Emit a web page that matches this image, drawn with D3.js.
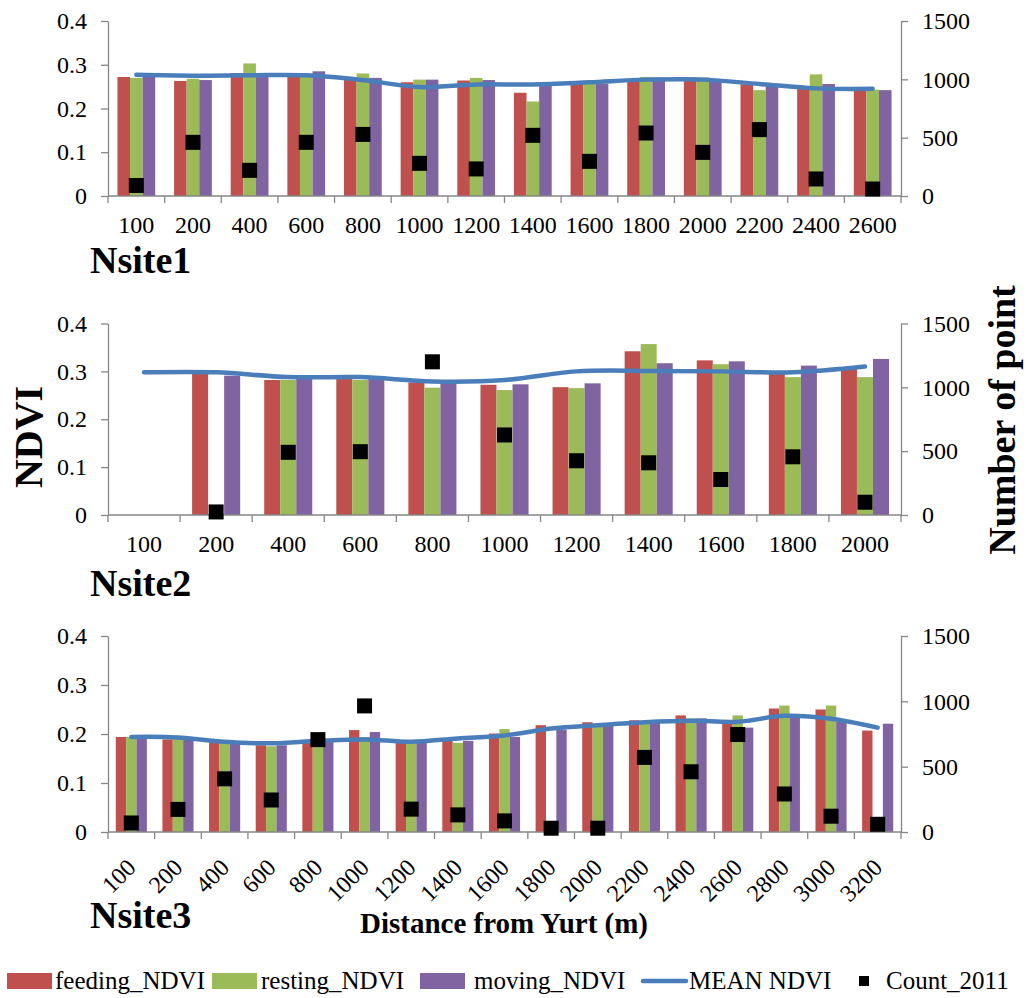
<!DOCTYPE html>
<html>
<head>
<meta charset="utf-8">
<script src="https://cdn.jsdelivr.net/npm/d3@7"></script>
<style>
  html, body { margin: 0; padding: 0; background: #fff; }
  svg text { font-family: "Liberation Serif", "Times New Roman", serif; }
</style>
</head>
<body>
<svg id="chart" width="1031" height="998" font-family="Liberation Serif"></svg>
<script>
// ---- Nsite1 ----
const cats1 = [100, 200, 400, 600, 800, 1000, 1200, 1400, 1600, 1800, 2000, 2200, 2400, 2600];
const feeding1 = [0.272, 0.263, 0.281, 0.277, 0.266, 0.260, 0.264, 0.236, 0.258, 0.266, 0.271, 0.255, 0.245, 0.243];
const resting1 = [0.270, 0.268, 0.303, 0.277, 0.280, 0.266, 0.270, 0.216, 0.258, 0.272, 0.271, 0.242, 0.278, 0.243];
const moving1  = [0.276, 0.265, 0.276, 0.285, 0.270, 0.266, 0.265, 0.255, 0.257, 0.271, 0.262, 0.251, 0.256, 0.242];
const mean1    = [0.277, 0.275, 0.276, 0.276, 0.265, 0.249, 0.255, 0.255, 0.260, 0.266, 0.266, 0.256, 0.246, 0.245];
const count1   = [90, 460, 220, 460, 528, 280, 232, 520, 297, 540, 374, 569, 146, 60];

// ---- Nsite2 ----
const cats2 = [100, 200, 400, 600, 800, 1000, 1200, 1400, 1600, 1800, 2000];
const feeding2 = [null, 0.296, 0.282, 0.284, 0.277, 0.272, 0.267, 0.342, 0.323, 0.297, 0.307];
const resting2 = [null, null, 0.282, 0.282, 0.266, 0.261, 0.265, 0.357, 0.315, 0.288, 0.288];
const moving2  = [null, 0.291, 0.285, 0.284, 0.277, 0.273, 0.275, 0.317, 0.321, 0.312, 0.326];
const mean2    = [0.298, 0.298, 0.288, 0.288, 0.279, 0.282, 0.300, 0.301, 0.300, 0.298, 0.310];
const count2   = [null, 24, 491, 496, 1200, 627, 425, 409, 278, 456, 100];

// ---- Nsite3 ----
const cats3 = [100, 200, 400, 600, 800, 1000, 1200, 1400, 1600, 1800, 2000, 2200, 2400, 2600, 2800, 3000, 3200];
const feeding3 = [0.194, 0.189, 0.184, 0.177, 0.184, 0.208, 0.184, 0.188, 0.201, 0.218, 0.224, 0.228, 0.238, 0.223, 0.252, 0.250, 0.207];
const resting3 = [0.194, 0.190, 0.182, 0.175, 0.184, 0.194, 0.183, 0.182, 0.210, null, 0.222, 0.227, 0.232, 0.238, 0.258, 0.258, null];
const moving3  = [0.192, 0.190, 0.182, 0.177, 0.184, 0.204, 0.184, 0.186, 0.194, 0.209, 0.218, 0.226, 0.232, 0.213, 0.240, 0.225, 0.221];
const mean3    = [0.194, 0.193, 0.184, 0.181, 0.186, 0.189, 0.184, 0.191, 0.197, 0.211, 0.218, 0.224, 0.227, 0.225, 0.237, 0.231, 0.213];
const count3   = [69, 173, 407, 245, 707, 965, 175, 131, 85, 29, 29, 571, 461, 746, 291, 121, 59];

// Axis ticks
const ndviTicks = [0, 0.1, 0.2, 0.3, 0.4];
const countTicks = [0, 500, 1000, 1500];

// Series names and colours
const barSeries = ["feeding_NDVI", "resting_NDVI", "moving_NDVI"];
const barColors = ["#C0504D", "#9BBB59", "#8064A2"];
const lineName = "MEAN NDVI";
const lineColor = "#4A7EBB";
const markerName = "Count_2011";

const FONT = "Liberation Serif";
const svg = d3.select("#chart");
const axisColor = "#868686";
const L = 108, R = 901;

const panels = [
  { name: "Nsite1", cats: cats1, bars: [feeding1, resting1, moving1], mean: mean1, count: count1,
    top: 21, bottom: 196, rotate: false, nameY: 273 },
  { name: "Nsite2", cats: cats2, bars: [feeding2, resting2, moving2], mean: mean2, count: count2,
    top: 323.5, bottom: 515, rotate: false, nameY: 596 },
  { name: "Nsite3", cats: cats3, bars: [feeding3, resting3, moving3], mean: mean3, count: count3,
    top: 636, bottom: 832, rotate: true, nameY: 928 }
];

function styleAxis(g) {
  g.attr("font-family", FONT);
  g.selectAll("path, line").attr("stroke", axisColor).attr("stroke-width", 1.3);
  g.selectAll("text").attr("font-size", 24).attr("fill", "#000").attr("font-family", FONT);
}

panels.forEach(p => {
  const x0 = d3.scaleBand().domain(p.cats).range([L, R]);
  const bw = x0.bandwidth();
  const x1 = d3.scaleBand().domain(barSeries).range([bw / 6, bw * 5 / 6]);
  const y = d3.scaleLinear().domain([0, 0.4]).range([p.bottom, p.top]);
  const y2 = d3.scaleLinear().domain([0, 1500]).range([p.bottom, p.top]);
  const cx = c => x0(c) + bw / 2;

  const g = svg.append("g");

  // grouped bars
  barSeries.forEach((s, si) => {
    const vals = p.bars[si];
    g.append("g").selectAll("rect")
      .data(p.cats.map((c, i) => ({ c, v: vals[i] })).filter(d => d.v != null))
      .join("rect")
      .attr("x", d => x0(d.c) + x1(s))
      .attr("width", x1.bandwidth())
      .attr("y", d => y(d.v))
      .attr("height", d => y(0) - y(d.v))
      .attr("fill", barColors[si]);
  });

  // left axis (NDVI)
  g.append("g").attr("transform", `translate(${L},0)`)
    .call(d3.axisLeft(y).tickValues(ndviTicks).tickSize(7).tickSizeOuter(0).tickPadding(14)
      .tickFormat(d => d === 0 ? "0" : d3.format(".1f")(d)))
    .call(styleAxis);

  // right axis (number of points)
  g.append("g").attr("transform", `translate(${R},0)`)
    .call(d3.axisRight(y2).tickValues(countTicks).tickSize(7).tickSizeOuter(0).tickPadding(14)
      .tickFormat(d3.format("d")))
    .call(styleAxis);

  // category axis: baseline with boundary ticks
  const xa = g.append("g").attr("transform", `translate(0,${p.bottom})`).attr("font-family", FONT);
  xa.append("line").attr("x1", L).attr("x2", R).attr("y1", 0).attr("y2", 0)
    .attr("stroke", axisColor).attr("stroke-width", 1.3);
  xa.selectAll("line.b").data(p.cats.map(c => x0(c)).concat([R]))
    .join("line").attr("class", "b")
    .attr("x1", d => d).attr("x2", d => d).attr("y1", 0).attr("y2", 7)
    .attr("stroke", axisColor).attr("stroke-width", 1.3);

  if (!p.rotate) {
    xa.selectAll("text").data(p.cats).join("text")
      .attr("x", d => cx(d)).attr("y", 37)
      .attr("text-anchor", "middle").attr("font-size", 24).attr("font-family", FONT).text(d => d);
  } else {
    xa.selectAll("text").data(p.cats).join("text")
      .attr("transform", d => `translate(${cx(d) + 6},${37}) rotate(-45)`)
      .attr("text-anchor", "end").attr("font-size", 24).attr("font-family", FONT).text(d => d);
  }

  // mean NDVI line (smoothed)
  const line = d3.line()
    .defined(d => d != null)
    .x((d, i) => cx(p.cats[i]))
    .y(d => y(d))
    .curve(d3.curveCardinal.tension(0));
  g.append("path").datum(p.mean)
    .attr("d", line).attr("fill", "none")
    .attr("stroke", lineColor).attr("stroke-width", 4.5)
    .attr("stroke-linecap", "round").attr("stroke-linejoin", "round");

  // count markers
  const ms = 15;
  g.append("g").selectAll("rect")
    .data(p.cats.map((c, i) => ({ c, v: p.count[i] })).filter(d => d.v != null))
    .join("rect")
    .attr("x", d => cx(d.c) - ms / 2)
    .attr("y", d => y2(d.v) - ms / 2)
    .attr("width", ms).attr("height", ms)
    .attr("fill", "#000");

  // panel name
  svg.append("text").attr("x", 90).attr("y", p.nameY).attr("font-family", FONT)
    .attr("font-size", 38).attr("font-weight", "bold").text(p.name);
});

// axis titles
svg.append("text").attr("transform", "translate(42,437) rotate(-90)").attr("font-family", FONT)
  .attr("text-anchor", "middle").attr("font-size", 40).attr("font-weight", "bold").text("NDVI");
svg.append("text").attr("transform", "translate(1015,420) rotate(-90)").attr("font-family", FONT)
  .attr("text-anchor", "middle").attr("font-size", 38).attr("font-weight", "bold").text("Number of point");
svg.append("text").attr("x", 504).attr("y", 933).attr("font-family", FONT)
  .attr("text-anchor", "middle").attr("font-size", 29).attr("font-weight", "bold")
  .text("Distance from Yurt (m)");

// legend
const lg = svg.append("g").attr("font-family", FONT);
const legY = 981;
const legItems = [
  { type: "rect", color: barColors[0], label: barSeries[0], sx: 7, tx: 55 },
  { type: "rect", color: barColors[1], label: barSeries[1], sx: 212, tx: 261 },
  { type: "rect", color: barColors[2], label: barSeries[2], sx: 420, tx: 474 },
  { type: "line", color: lineColor, label: lineName, sx: 643, tx: 689 },
  { type: "mark", color: "#000", label: markerName, sx: 859, tx: 886 }
];
legItems.forEach(it => {
  if (it.type === "rect") {
    lg.append("rect").attr("x", it.sx).attr("y", legY - 8).attr("width", 45).attr("height", 16).attr("fill", it.color);
  } else if (it.type === "line") {
    lg.append("line").attr("x1", it.sx).attr("x2", it.sx + 43).attr("y1", legY).attr("y2", legY)
      .attr("stroke", it.color).attr("stroke-width", 4.5).attr("stroke-linecap", "round");
  } else {
    lg.append("rect").attr("x", it.sx).attr("y", legY - 5).attr("width", 10).attr("height", 10).attr("fill", it.color);
  }
  lg.append("text").attr("x", it.tx).attr("y", legY + 8).attr("font-size", 25).attr("font-family", FONT).text(it.label);
});
</script>
</body>
</html>
